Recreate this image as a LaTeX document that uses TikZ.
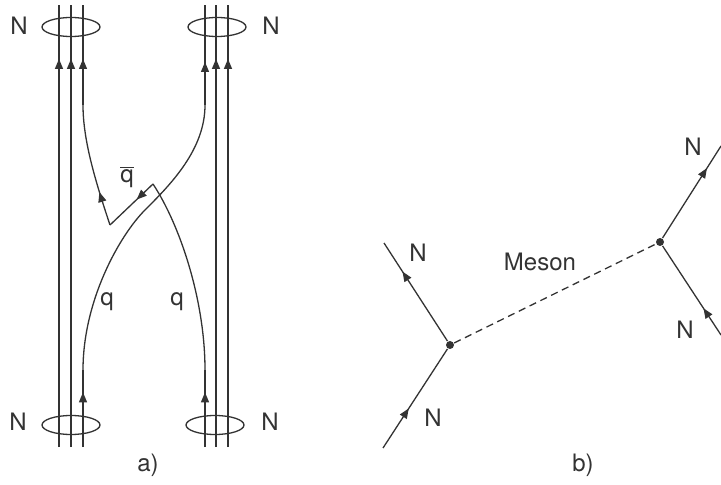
\documentclass[tikz,border=0pt]{standalone}
\usepackage{fontspec}
\setmainfont{TeX Gyre Heros}
\usetikzlibrary{arrows.meta,decorations.markings,shapes.geometric}

\begin{document}
\begin{tikzpicture}[x=0.5pt, y=-0.5pt, line width=0.65pt, black!80,
  every node/.style={font=\fontsize{12}{14}\selectfont},
  arr/.style={postaction={decorate, decoration={markings,
    mark=at position #1 with {\arrow{Triangle[length=5pt, width=4pt]}}}}},
  ring/.style={draw, ellipse, minimum width=29pt, minimum height=9.5pt, inner sep=0pt},
  vtx/.style={circle, fill, inner sep=0pt, minimum size=4pt},
  meson/.style={dash pattern=on 3.6pt off 2.4pt}]
\useasboundingbox (0,0) rectangle (721,485);
% a) nucleons with quark lines
\coordinate (l1b) at (59,447); \coordinate (l1t) at (59,5);
\coordinate (l2b) at (71,447); \coordinate (l2t) at (71,5);
\coordinate (l3b) at (83,447); \coordinate (l3t) at (83,5);
\coordinate (r1b) at (205,447); \coordinate (r1t) at (205,5);
\coordinate (r2b) at (216,447); \coordinate (r2t) at (216,5);
\coordinate (r3b) at (228,447); \coordinate (r3t) at (228,5);
\coordinate (qlb) at (83,370); \coordinate (qrt) at (205,105);
\coordinate (qrb) at (205,370); \coordinate (qlt) at (83,105);
\coordinate (kr) at (153,184); \coordinate (kl) at (110,225);
\draw[arr=0.878] (l1b) -- (l1t);
\draw[arr=0.878] (l2b) -- (l2t);
\draw[arr=0.878] (r2b) -- (r2t);
\draw[arr=0.878] (r3b) -- (r3t);
\draw[arr=0.71] (l3b) -- (qlb);
\draw (qlb) .. controls (83,300) and (120,235) .. (145,210)
  .. controls (170,185) and (205,150) .. (qrt);
\draw[arr=0.43] (qrt) -- (r1t);
\draw[arr=0.71] (r1b) -- (qrb);
\draw (qrb) .. controls (205,300) and (180,225) .. (kr);
\draw[arr=0.38] (kr) -- (kl);
\draw[arr=0.28] (kl) .. controls (95,180) and (83,140) .. (qlt);
\draw[arr=0.46] (qlt) -- (l3t);
\node[ring] (ntl) at (71,27) {};
\node[ring] (ntr) at (217,27) {};
\node[ring] (nbl) at (71,425) {};
\node[ring] (nbr) at (215,425) {};
\node (ltl) at (19,26) {N};
\node (ltr) at (271,26) {N};
\node (lbl) at (18,422) {N};
\node (lbr) at (270,422) {N};
\node (lqb) at (127,177) {$\overline{\hbox{q}}$};
\node (lq1) at (107,302) {q};
\node (lq2) at (177,302) {q};
\node (la) at (148,465) {a)};
% b) meson exchange
\node[vtx] (va) at (450,345) {};
\node[vtx] (vb) at (660,242) {};
\coordinate (a1) at (384,243); \coordinate (a2) at (383,448);
\coordinate (b1) at (721,146); \coordinate (b2) at (721,335);
\draw[arr=0.71] (va) -- (a1);
\draw[arr=0.40] (a2) -- (va);
\draw[arr=0.76] (vb) -- (b1);
\draw[arr=0.30] (b2) -- (vb);
\draw[meson] (va) -- (vb);
\node (na1) at (418,253) {N};
\node (na2) at (433,418) {N};
\node (nb1) at (693,147) {N};
\node (nb2) at (685,330) {N};
\node (lm) at (540,262) {Meson};
\node (lb) at (583,465) {b)};
\end{tikzpicture}
\end{document}
